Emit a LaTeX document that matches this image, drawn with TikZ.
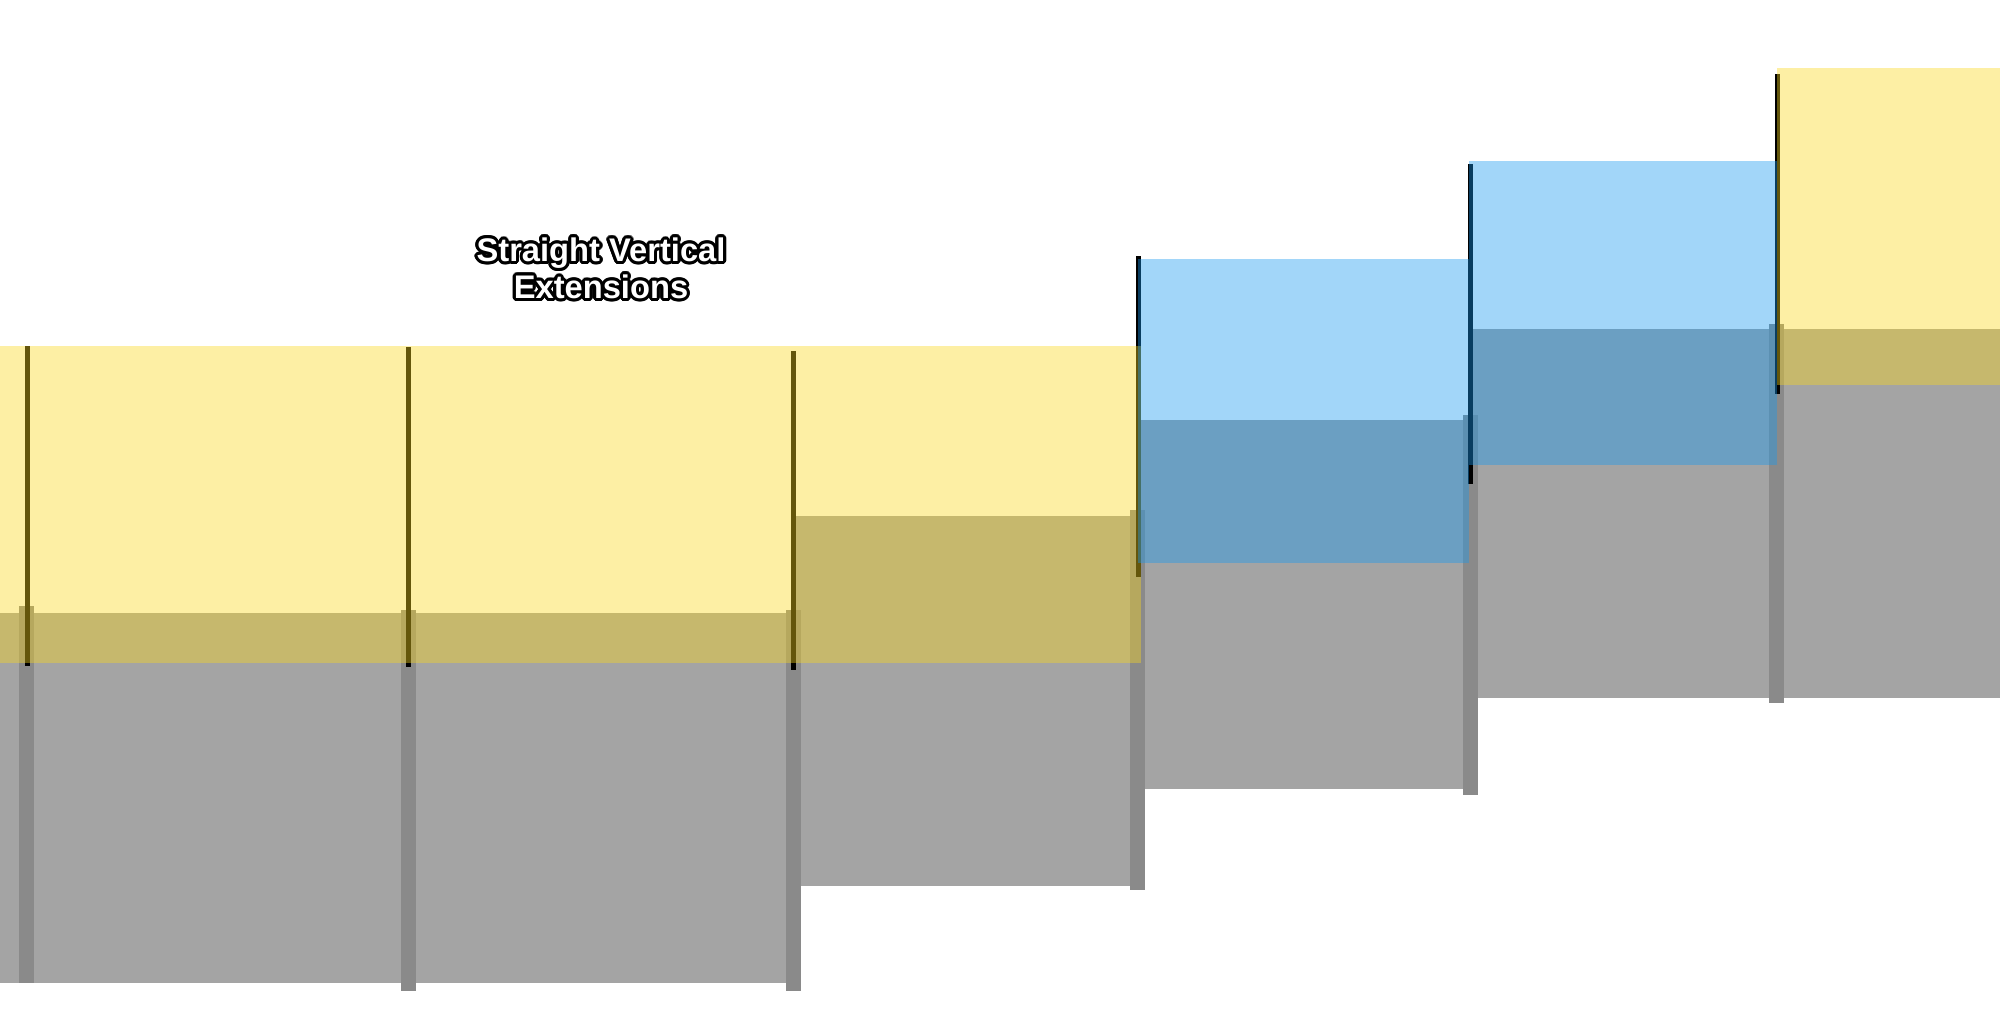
\documentclass[tikz,border=0pt]{standalone}
\usepackage{fontspec}
\newfontfamily\labelfont{Liberation Sans}
\usepackage{contour}
\contourlength{0.9pt}

\definecolor{massgray}{RGB}{164,164,164}
\definecolor{jointgray}{RGB}{138,138,138}
\definecolor{bandyellow}{RGB}{250,215,28}
\definecolor{bandblue}{RGB}{23,153,240}

\tikzset{
  mass/.style={fill=massgray},
  joint/.style={fill=jointgray},
  seam/.style={draw=black,line width=0.5mm},
  yellowband/.style={fill=bandyellow,fill opacity=0.4},
  blueband/.style={fill=bandblue,fill opacity=0.4}
}

\begin{document}
\begin{tikzpicture}[x=0.1mm,y=-0.1mm]

\newcommand{\bandh}{317}
\newcommand{\blueh}{304}

\useasboundingbox (0,0) rectangle (2000,1029);
\clip (0,0) rectangle (2000,1029);

% gray blocks
\fill[mass] (0,613) rectangle (408,983);
\fill[mass] (408,613) rectangle (794,983);
\fill[mass] (794,516) rectangle (1138,886);
\fill[mass] (1138,420) rectangle (1471,789);
\fill[mass] (1471,329) rectangle (1777,698);
\fill[mass] (1777,329) rectangle (2000,698);

% joints
\fill[joint] (19,606) rectangle (34,983);
\fill[joint] (401,610) rectangle (416,991);
\fill[joint] (786,610) rectangle (801,991);
\fill[joint] (1130,510) rectangle (1145,890);
\fill[joint] (1463,415) rectangle (1478,795);
\fill[joint] (1769,324) rectangle (1784,703);

% seams
\draw[seam] (27.5,346) -- (27.5,666);
\draw[seam] (408.5,347) -- (408.5,667);
\draw[seam] (793.5,351) -- (793.5,670);
\draw[seam] (1138.5,256) -- (1138.5,577);
\draw[seam] (1470.5,164) -- (1470.5,484);
\draw[seam] (1777.5,74) -- (1777.5,394);

% extensions
\fill[yellowband] (0,346) rectangle ++(408,\bandh);
\fill[yellowband] (408,346) rectangle ++(385,\bandh);
\fill[yellowband] (793,346) rectangle ++(348,\bandh);
\fill[blueband] (1138,259) rectangle ++(331,\blueh);
\fill[blueband] (1469,161) rectangle ++(308,\blueh);
\fill[yellowband] (1777,68) rectangle ++(223,\bandh);

%\draw[red] (0,0) grid[step=100] (2000,1029);

\node[text=white,align=center,font=\labelfont\bfseries\fontsize{9.3}{10.6}\selectfont] (title) at (601,270)
  {\contour{black}{Straight Vertical}\\\contour{black}{Extensions}};

\end{tikzpicture}
\end{document}
